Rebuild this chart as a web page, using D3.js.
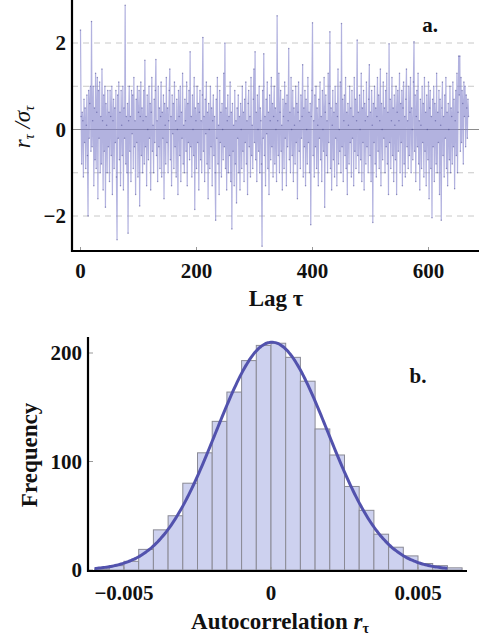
<!DOCTYPE html>
<html>
<head>
<meta charset="utf-8">
<script src="https://cdn.jsdelivr.net/npm/d3@7"></script>
<style>
  body { margin: 0; background: #fff; }
  svg text { font-family: "Liberation Serif", "DejaVu Serif", serif; fill: #111; }
</style>
</head>
<body>
<svg id="chart" width="479" height="639"></svg>
<script>
// panel a: normalised autocorrelation r_tau / sigma_tau for lags 0..669
const lagValues = [
  2.3, 0.3, -0.8, 0.4, 0.2, -1.1, 0.7, -0.3, 0.5, -0.9,
  0.1, 0.8, -0.6, -2.0, 0.9, -0.2, 0.6, 1.0, -0.5, 2.5,
  -0.4, 0.2, 1.0, -1.3, 0.5, -0.7, 1.3, -0.9, 0.4, 1.2,
  -1.6, 0.9, -0.2, 1.1, -1.0, 0.3, -0.8, 1.4, 0.2, -1.4,
  0.8, -0.5, 1.0, -1.8, 0.6, 0.1, -1.0, 0.9, -0.4, 0.4,
  -1.2, 0.9, 0.3, -0.6, 1.0, -1.5, 0.2, 0.7, -0.9, 0.5,
  -0.3, 0.9, -1.1, -2.55, 0.8, -0.2, 1.1, -0.7, 0.4, -1.3,
  0.9, 0.1, -0.6, 1.0, -1.4, 0.5, -0.2, 2.87, -0.8, 0.3,
  -1.0, 0.6, -2.4, 0.2, 1.0, -0.5, 0.3, -1.2, 0.9, -0.1,
  0.8, -0.9, 1.2, -0.4, 0.2, -1.5, 0.7, -0.3, 1.0, -1.1,
  0.4, 0.9, -1.77, 0.3, 1.1, -0.6, 0.5, -1.0, 0.2, 0.9,
  -0.8, 1.6, -0.4, 0.3, -1.3, 0.8, 0.0, -0.7, 1.0, -0.2,
  0.6, -1.4, 0.4, 1.2, -0.5, 0.1, -1.0, 0.7, -0.3, 0.9,
  1.62, -0.6, 0.2, -1.2, 1.0, -0.4, 0.5, -0.9, 0.3, 1.1,
  -1.1, 0.4, -0.2, 0.8, -1.6, 0.6, 0.1, -0.8, 1.2, -0.3,
  0.5, -1.0, 0.2, 0.9, 1.4, -0.7, 0.3, -1.3, 0.8, -0.1,
  0.6, -0.9, 1.1, -0.4, 0.2, -1.1, 0.7, 0.0, -1.5, 0.9,
  0.3, -0.6, 1.0, -1.2, 0.4, -0.2, 1.3, -0.8, 0.1, -1.0,
  0.7, 0.2, -0.5, 1.1, -1.3, 0.6, -0.3, 0.9, -0.7, 1.8,
  -0.4, 0.3, -1.1, 0.8, 0.0, -0.6, 1.2, -1.85, 0.5, 0.2,
  -0.9, 1.0, -0.3, 0.6, -1.4, 0.4, 0.9, -0.7, 0.2, -1.0,
  0.8, 2.13, -0.5, 0.3, -1.2, 0.7, -0.1, 1.1, -0.8, 0.4,
  -1.6, 0.6, 0.0, -0.9, 1.0, -0.4, 0.5, -1.3, 0.2, 0.8,
  -0.6, 0.3, -1.0, -2.1, 0.7, -0.2, 1.2, -0.8, 0.1, -1.5,
  0.9, -0.3, 0.4, -1.1, 0.6, 0.0, -0.7, 1.3, -0.4, 2.0,
  -0.9, 0.5, -1.4, 0.2, 0.8, -1.0, 0.3, -0.6, 1.1, -1.2,
  0.4, -2.3, 0.6, -0.5, 0.1, -1.3, 0.9, -0.8, 0.2, -1.7,
  0.5, -0.2, 0.8, -1.0, 0.3, -1.4, 0.6, 0.0, -0.9, 1.0,
  -0.5, 0.4, -1.2, 0.7, -0.3, 1.1, -0.8, 0.2, -1.5, 0.6,
  0.9, -0.4, 0.3, -1.1, 1.2, -0.6, 0.1, -0.9, 0.7, 1.4,
  -0.3, 1.8, -0.7, 0.4, -1.2, 0.8, 0.0, -0.5, 1.0, -1.0,
  0.5, 0.2, -0.8, -2.7, 0.9, -0.2, 1.75, -0.6, 0.3, -1.3,
  0.7, -0.1, 1.1, -0.9, 0.4, -1.5, 0.8, 0.2, -0.7, 1.2,
  -0.4, 0.6, -1.1, 0.3, 1.0, -0.8, 0.5, 0.0, -1.2, 2.63,
  0.2, -0.6, 1.3, -1.0, 0.4, 0.9, -0.5, 0.1, -1.4, 0.7,
  0.3, -0.9, 1.1, -0.2, 0.6, -1.3, 0.8, -0.4, 0.2, 1.87,
  -0.7, 0.4, -1.0, 1.2, 0.0, -0.6, 0.9, -1.2, 0.5, 0.1,
  -0.8, 1.0, -0.3, 0.6, -1.6, 0.4, 1.1, -0.5, 0.2, -0.9,
  0.8, -0.2, 0.3, 1.5, -1.1, 0.5, -0.4, 0.9, -1.3, 0.7,
  0.0, -0.8, 1.2, -0.3, 0.4, -1.0, 0.6, -2.2, 0.3, 0.9,
  2.47, -0.6, 0.2, -1.1, 0.8, -0.4, 1.0, -0.9, 0.5, 0.1,
  -1.3, 0.7, -0.2, 1.1, -0.7, 0.3, -1.2, 0.9, 0.0, -0.5,
  1.2, -1.8, 0.4, 0.8, -0.6, 0.2, -1.0, 1.3, -0.3, 0.6,
  2.26, -0.9, 0.5, -1.4, 0.1, 0.9, -0.7, 0.4, -1.1, 1.0,
  -0.2, 0.6, -1.3, 0.3, 1.4, -0.8, 0.0, -0.5, 1.1, -1.0,
  2.45, -0.4, 0.7, -1.2, 0.2, 0.8, -0.6, 1.2, -0.9, 0.4,
  -1.5, 0.6, 0.1, -0.8, 1.0, -0.3, 0.5, -1.1, 0.9, -0.2,
  0.3, -1.3, 1.2, -0.5, 0.7, -0.9, 0.2, 2.07, -0.6, 0.4,
  -1.0, 0.8, 0.0, -0.7, 1.3, -1.2, 0.5, -0.3, 0.9, -1.4,
  0.6, 0.2, -0.8, 1.1, -0.4, 0.3, -1.0, 0.7, 1.5, -0.6,
  0.4, -1.2, 0.9, 0.1, -2.15, 0.6, -0.3, 1.0, -0.8, 0.5,
  -1.1, 0.3, 1.2, -0.5, 0.8, -0.9, 0.2, 1.4, -1.3, 0.6,
  0.0, -0.7, 1.1, -0.2, 0.5, -1.0, 0.9, -0.4, 1.3, -0.8,
  0.4, -1.5, 1.98, -0.3, 0.7, -0.9, 0.2, 1.2, -0.6, 0.5,
  -1.2, 0.8, 0.1, -0.7, 1.0, -1.5, 0.4, 0.9, -0.5, 0.2,
  1.3, -1.0, 0.6, -0.3, 0.9, -1.3, 0.5, 1.1, -0.8, 0.3,
  -1.1, 0.7, 1.4, -0.4, 0.2, -0.9, 1.0, -0.6, 0.4, 1.2,
  -1.0, 0.5, 0.0, -0.7, 1.1, 2.03, -0.5, 0.8, -1.2, 0.3,
  0.9, -0.4, 1.3, -0.8, 0.2, -1.4, 0.7, 0.1, -0.9, 1.0,
  -0.3, 0.6, -1.1, 1.2, -0.5, 0.4, -1.3, 0.8, 0.0, -0.7,
  1.1, -1.6, 0.5, 0.9, -0.9, 0.3, -2.04, 0.7, -0.4, 1.0,
  -1.2, 0.6, 0.2, -0.8, 1.3, -1.0, 0.4, -0.3, 0.9, -1.5,
  0.7, 0.1, -2.1, 0.5, 1.1, -0.6, 0.3, -1.1, 0.8, -0.2,
  1.2, -0.9, 0.4, -1.3, 0.6, 0.0, -0.7, 1.0, -1.0, 0.5,
  0.3, -0.8, 1.1, -0.4, 0.7, -1.37, 0.2, 0.9, -0.6, 1.3,
  -1.0, 0.4, 1.7, 0.8, 1.7, -0.5, 1.2, -0.3, 0.9, 0.6,
  -0.8, 1.1, 0.3, 1.0, -0.4, 0.8, 0.5, -0.2, 0.7, 0.3
];
const lagTicks = [0, 200, 400, 600];
const ratioTicks = [-2, 0, 2];
const ratioGrid = [-2, -1, 1, 2];

// panel b: histogram of autocorrelation values, bins of width 0.0005
const binStarts = [-0.006, -0.0055, -0.005, -0.0045, -0.004, -0.0035, -0.003, -0.0025,
  -0.002, -0.0015, -0.001, -0.0005, 0, 0.0005, 0.001, 0.0015, 0.002, 0.0025, 0.003,
  0.0035, 0.004, 0.0045, 0.005, 0.0055, 0.006];
const binCounts = [1, 4, 8, 19, 37, 50, 80, 108, 137, 164, 193, 207, 209, 196, 174,
  130, 106, 77, 55, 33, 21, 13, 6, 4, 2];
const binWidth = 0.0005;
const fitMean = 0.00003, fitSigma = 0.0019, fitCount = 2000;
const corrTicks = [-0.005, 0, 0.005];
const freqTicks = [0, 100, 200];

const svg = d3.select("#chart");

// ---------- panel a ----------
const xa = d3.scaleLinear().domain([0, 600]).range([80.5, 428.5]);
const ya = d3.scaleLinear().domain([-2, 2]).range([216, 43]);
const aLeft = 72, aRight = 479, aTop = 0, aBottom = 251;

svg.append("g")
  .selectAll("line")
  .data(ratioGrid)
  .enter()
  .append("line")
  .attr("x1", aLeft).attr("x2", aRight)
  .attr("y1", (d) => ya(d)).attr("y2", (d) => ya(d))
  .attr("stroke", "#c8c8c8")
  .attr("stroke-width", 1)
  .attr("stroke-dasharray", "6,5");

svg.append("line")
  .attr("x1", aLeft).attr("x2", aRight)
  .attr("y1", ya(0)).attr("y2", ya(0))
  .attr("stroke", "#8c8c8c")
  .attr("stroke-width", 1);

const lineA = d3.line()
  .x((d, i) => xa(i))
  .y((d) => ya(d));

svg.append("path")
  .datum(lagValues)
  .attr("d", lineA)
  .attr("fill", "none")
  .attr("stroke", "#8282cc")
  .attr("stroke-opacity", 0.62)
  .attr("stroke-width", 1.2);

svg.append("g")
  .selectAll("circle")
  .data(lagValues)
  .enter()
  .append("circle")
  .attr("cx", (d, i) => xa(i))
  .attr("cy", (d) => ya(d))
  .attr("r", 0.75)
  .attr("fill", "#40408c")
  .attr("fill-opacity", 0.5);

// axes a
const axA = svg.append("g");
axA.selectAll("line.xt")
  .data(lagTicks)
  .enter()
  .append("line")
  .attr("x1", (d) => xa(d)).attr("x2", (d) => xa(d))
  .attr("y1", aBottom).attr("y2", aBottom - 4)
  .attr("stroke", "#999");
axA.append("line")
  .attr("x1", aLeft).attr("x2", aLeft)
  .attr("y1", aTop).attr("y2", aBottom + 1)
  .attr("stroke", "#000").attr("stroke-width", 2.2);
axA.append("line")
  .attr("x1", aLeft - 1).attr("x2", aRight)
  .attr("y1", aBottom).attr("y2", aBottom)
  .attr("stroke", "#000").attr("stroke-width", 2.2);

axA.selectAll("text.xl")
  .data(lagTicks)
  .enter()
  .append("text")
  .attr("x", (d) => xa(d))
  .attr("y", 278)
  .attr("text-anchor", "middle")
  .style("font-size", "21px")
  .style("font-weight", "bold")
  .text((d) => d);

axA.selectAll("text.yl")
  .data(ratioTicks)
  .enter()
  .append("text")
  .attr("x", 66)
  .attr("y", (d) => ya(d) + 7)
  .attr("text-anchor", "end")
  .style("font-size", "21px")
  .style("font-weight", "bold")
  .text((d) => (d < 0 ? "\u2212" + Math.abs(d) : d));

svg.append("text")
  .attr("x", 276)
  .attr("y", 306)
  .attr("text-anchor", "middle")
  .style("font-size", "23px")
  .style("font-weight", "bold")
  .text("Lag \u03c4");

const yLabA = svg.append("text")
  .attr("transform", "translate(30,127) rotate(-90)")
  .attr("text-anchor", "middle")
  .style("font-size", "23px")
  .style("font-style", "italic");
yLabA.append("tspan").text("r");
yLabA.append("tspan").attr("dy", 4).style("font-size", "14px").text("\u03c4");
yLabA.append("tspan").attr("dy", -4).text(" /\u03c3");
yLabA.append("tspan").attr("dy", 4).style("font-size", "14px").text("\u03c4");

svg.append("text")
  .attr("x", 430)
  .attr("y", 32)
  .attr("text-anchor", "middle")
  .style("font-size", "21px")
  .style("font-weight", "bold")
  .text("a.");

// ---------- panel b ----------
const xb = d3.scaleLinear().domain([-0.005, 0.005]).range([124, 418]);
const yb = d3.scaleLinear().domain([0, 200]).range([570, 353]);
const bLeft = 88, bRight = 467, bTop = 337, bBottom = 571;

svg.append("g")
  .selectAll("rect")
  .data(binStarts)
  .enter()
  .append("rect")
  .attr("x", (d) => xb(d))
  .attr("width", (d) => xb(d + binWidth) - xb(d))
  .attr("y", (d, i) => yb(binCounts[i]))
  .attr("height", (d, i) => yb(0) - yb(binCounts[i]))
  .attr("fill", "#cdd1ef")
  .attr("stroke", "#8a8a95")
  .attr("stroke-width", 1);

const curveX = d3.range(-0.006, 0.00601, 0.00005);
const lineB = d3.line()
  .x((d) => xb(d))
  .y((d) => yb(fitCount * binWidth * Math.exp(-0.5 * ((d - fitMean) / fitSigma) ** 2) / (fitSigma * Math.sqrt(2 * Math.PI))))
  .curve(d3.curveBasis);

svg.append("path")
  .datum(curveX)
  .attr("d", lineB)
  .attr("fill", "none")
  .attr("stroke", "#5252ad")
  .attr("stroke-width", 3);

const axB = svg.append("g");
axB.selectAll("line.yt")
  .data(freqTicks)
  .enter()
  .append("line")
  .attr("x1", bLeft).attr("x2", bLeft + 5)
  .attr("y1", (d) => yb(d)).attr("y2", (d) => yb(d))
  .attr("stroke", "#999");
axB.selectAll("line.xt")
  .data(corrTicks)
  .enter()
  .append("line")
  .attr("x1", (d) => xb(d)).attr("x2", (d) => xb(d))
  .attr("y1", bBottom).attr("y2", bBottom - 4)
  .attr("stroke", "#999");
axB.append("line")
  .attr("x1", bLeft).attr("x2", bLeft)
  .attr("y1", bTop).attr("y2", bBottom + 1)
  .attr("stroke", "#000").attr("stroke-width", 2.2);
axB.append("line")
  .attr("x1", bLeft - 1).attr("x2", bRight)
  .attr("y1", bBottom).attr("y2", bBottom)
  .attr("stroke", "#000").attr("stroke-width", 2.2);

axB.selectAll("text.xl")
  .data(corrTicks)
  .enter()
  .append("text")
  .attr("x", (d) => xb(d))
  .attr("y", 600)
  .attr("text-anchor", "middle")
  .style("font-size", "21px")
  .style("font-weight", "bold")
  .text((d) => (d < 0 ? "\u2212" + Math.abs(d) : d === 0 ? "0" : d));

axB.selectAll("text.yl")
  .data(freqTicks)
  .enter()
  .append("text")
  .attr("x", 82)
  .attr("y", (d) => yb(d) + 7)
  .attr("text-anchor", "end")
  .style("font-size", "21px")
  .style("font-weight", "bold")
  .text((d) => d);

const xLabB = svg.append("text")
  .attr("x", 280)
  .attr("y", 629)
  .attr("text-anchor", "middle")
  .style("font-size", "23px")
  .style("font-weight", "bold");
xLabB.append("tspan").text("Autocorrelation ");
xLabB.append("tspan").style("font-style", "italic").text("r");
xLabB.append("tspan").attr("dy", 4).style("font-size", "14px").text("\u03c4");

svg.append("text")
  .attr("transform", "translate(37,455) rotate(-90)")
  .attr("text-anchor", "middle")
  .style("font-size", "23px")
  .style("font-weight", "bold")
  .text("Frequency");

svg.append("text")
  .attr("x", 418)
  .attr("y", 383)
  .attr("text-anchor", "middle")
  .style("font-size", "21px")
  .style("font-weight", "bold")
  .text("b.");
</script>
</body>
</html>
